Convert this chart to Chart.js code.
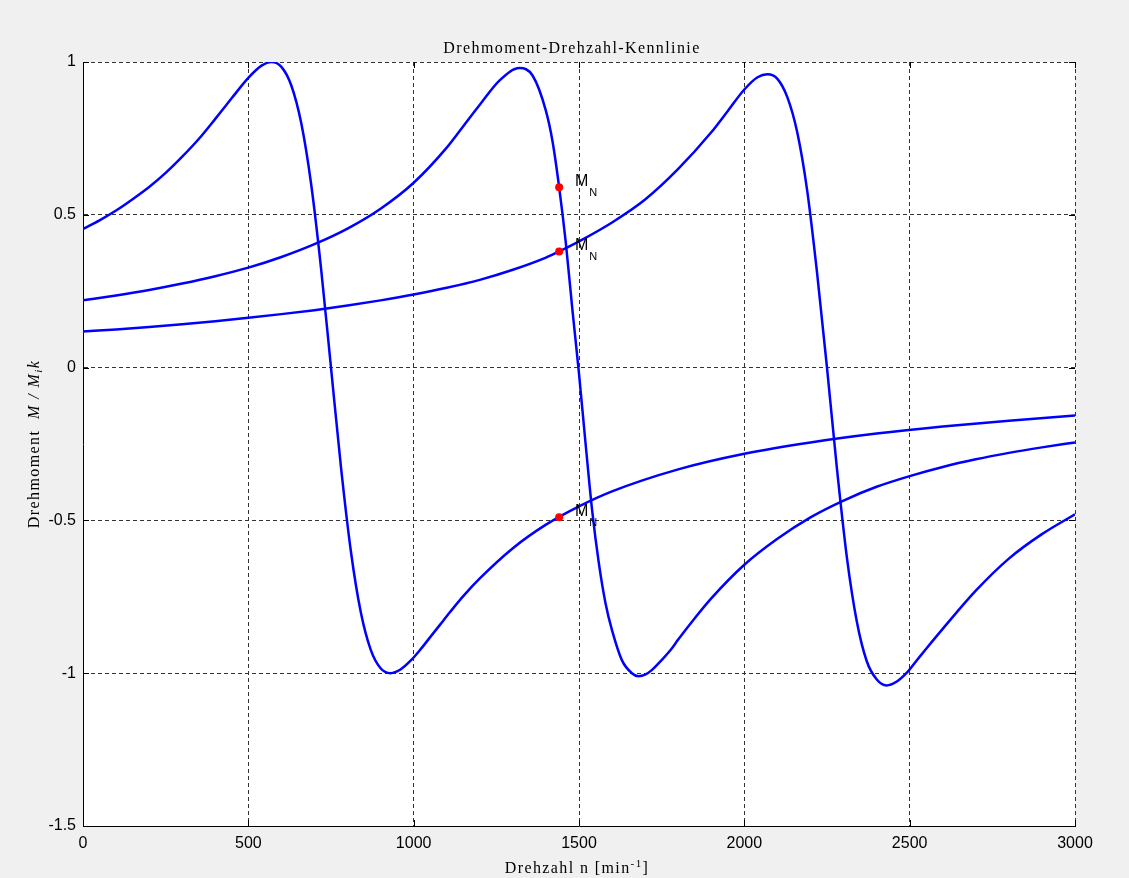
<!DOCTYPE html>
<html>
<head>
<meta charset="utf-8">
<title>Drehmoment-Drehzahl-Kennlinie</title>
<script src="https://cdn.jsdelivr.net/npm/chart.js@4.4.0/dist/chart.umd.min.js"></script>
<style>
  html, body { margin: 0; padding: 0; background: #f0f0f0; }
  #chart { display: block; }
</style>
</head>
<body>
<canvas id="chart" width="1129" height="878"></canvas>
<script>
// Kennlinien (n in 1/min, M/Mk)
const speed1 = [0, 50, 100, 150, 200, 250, 300, 350, 400, 450, 500, 540, 570, 600, 630, 660, 690, 720, 750, 780, 810, 840, 870, 900, 930, 960, 990, 1020, 1050, 1080, 1110, 1150, 1200, 1300, 1400, 1500, 1600, 1800, 2000, 2200, 2400, 2600, 2800, 3000];
const torque1 = [0.454, 0.482, 0.514, 0.551, 0.591, 0.637, 0.69, 0.748, 0.814, 0.882, 0.948, 0.988, 1.0, 0.984, 0.923, 0.8, 0.6, 0.324, 0.0, -0.324, -0.6, -0.8, -0.923, -0.984, -1.0, -0.988, -0.96, -0.923, -0.882, -0.841, -0.8, -0.748, -0.69, -0.591, -0.514, -0.454, -0.405, -0.333, -0.282, -0.245, -0.216, -0.193, -0.174, -0.157];

const speed2 = [0, 100, 200, 300, 400, 500, 600, 700, 800, 900, 1000, 1100, 1150, 1200, 1260, 1320, 1360, 1400, 1420, 1440, 1460, 1480, 1500, 1520, 1540, 1560, 1580, 1600, 1630, 1660, 1680, 1700, 1720, 1750, 1780, 1800, 1850, 1900, 2000, 2100, 2200, 2300, 2400, 2500, 2600, 2700, 2800, 2900, 3000];
const torque2 = [0.22, 0.236, 0.254, 0.275, 0.299, 0.327, 0.362, 0.404, 0.455, 0.52, 0.605, 0.72, 0.79, 0.86, 0.94, 0.98, 0.955, 0.84, 0.74, 0.59, 0.41, 0.19, -0.02, -0.25, -0.47, -0.64, -0.77, -0.86, -0.958, -1.0, -1.01, -1.005, -0.99, -0.957, -0.92, -0.89, -0.82, -0.755, -0.645, -0.56, -0.49, -0.435, -0.39, -0.355, -0.325, -0.3, -0.279, -0.261, -0.245];

const speed3 = [0, 100, 200, 300, 400, 500, 600, 700, 800, 900, 1000, 1100, 1200, 1300, 1400, 1440, 1500, 1600, 1700, 1800, 1900, 1950, 2000, 2040, 2070, 2100, 2130, 2160, 2190, 2220, 2250, 2280, 2310, 2340, 2370, 2400, 2430, 2460, 2490, 2520, 2550, 2600, 2700, 2800, 2900, 3000];
const torque3 = [0.118, 0.125, 0.133, 0.142, 0.152, 0.163, 0.175, 0.188, 0.203, 0.22, 0.239, 0.261, 0.287, 0.32, 0.36, 0.38, 0.413, 0.475, 0.55, 0.65, 0.77, 0.84, 0.91, 0.95, 0.96, 0.945, 0.885, 0.77, 0.58, 0.31, 0.0, -0.33, -0.62, -0.83, -0.96, -1.02, -1.04, -1.028, -1.0, -0.96, -0.92, -0.855, -0.73, -0.625, -0.545, -0.48];

// Nennpunkte M_N
const ratedSpeed = [1440, 1440, 1440];
const ratedTorque = [0.59, 0.38, -0.49];
const ratedLabelSpeed = 1488;

const xTicks = [0, 500, 1000, 1500, 2000, 2500, 3000];
const yTicks = [-1.5, -1, -0.5, 0, 0.5, 1];

const titleText = 'Drehmoment-Drehzahl-Kennlinie';

function zip(xs, ys) {
    return xs.map((x, i) => ({ x: x, y: ys[i] }));
}

// zeichnet Text aus mehreren Stuecken (Schrift, Versatz)
function drawPieces(ctx, pieces, x, y) {
    let w = 0;
    pieces.forEach(p => { ctx.font = p.font; w += ctx.measureText(p.text).width; });
    let cx = x - w / 2;
    pieces.forEach(p => {
        ctx.font = p.font;
        ctx.fillText(p.text, cx, y + (p.dy || 0));
        cx += ctx.measureText(p.text).width;
    });
}

const serif = '"Liberation Serif", "Times New Roman", serif';
const sans = '"Liberation Sans", Arial, sans-serif';

const decorPlugin = {
    id: 'decor',
    beforeDraw(chart) {
        const { ctx, chartArea: a } = chart;
        ctx.save();
        ctx.fillStyle = '#f0f0f0';
        ctx.fillRect(0, 0, chart.width, chart.height);
        ctx.fillStyle = '#ffffff';
        ctx.fillRect(a.left, a.top, a.right - a.left, a.bottom - a.top);
        ctx.restore();
    },
    afterDatasetsDraw(chart) {
        const { ctx, chartArea: a, scales: { x, y } } = chart;
        ctx.save();
        ctx.fillStyle = '#000';
        ctx.textAlign = 'left';
        ctx.textBaseline = 'alphabetic';
        ratedTorque.forEach(m => {
            const px = x.getPixelForValue(ratedLabelSpeed);
            const py = y.getPixelForValue(m) - 1;
            ctx.font = '16px ' + sans;
            ctx.fillText('M', px, py);
            const w = ctx.measureText('M').width;
            ctx.font = '11px ' + sans;
            ctx.fillText('N', px + w + 1, py + 10);
        });

        // kleine Striche nach innen
        ctx.strokeStyle = '#000';
        ctx.lineWidth = 1;
        ctx.beginPath();
        xTicks.forEach(v => {
            const px = Math.round(x.getPixelForValue(v)) + 0.5;
            ctx.moveTo(px, a.bottom); ctx.lineTo(px, a.bottom - 6);
            ctx.moveTo(px, a.top); ctx.lineTo(px, a.top + 6);
        });
        yTicks.forEach(v => {
            const py = Math.round(y.getPixelForValue(v)) + 0.5;
            ctx.moveTo(a.left, py); ctx.lineTo(a.left + 6, py);
            ctx.moveTo(a.right, py); ctx.lineTo(a.right - 6, py);
        });
        ctx.stroke();
        ctx.restore();
    },
    afterDraw(chart) {
        const { ctx, chartArea: a } = chart;
        ctx.save();
        ctx.fillStyle = '#000';
        ctx.textAlign = 'left';
        ctx.textBaseline = 'alphabetic';
        ctx.letterSpacing = '1.4px';

        drawPieces(ctx, [{ text: titleText, font: '16px ' + serif }], 572, 53);

        drawPieces(ctx, [
            { text: 'Drehzahl n [min', font: '16px ' + serif },
            { text: '-1', font: '11px ' + serif, dy: -6 },
            { text: ']', font: '16px ' + serif }
        ], 577, 873);

        ctx.translate(0, (a.top + a.bottom) / 2);
        ctx.rotate(-Math.PI / 2);
        drawPieces(ctx, [
            { text: 'Drehmoment  ', font: '16px ' + serif },
            { text: 'M / M', font: 'italic 16px ' + serif },
            { text: 'i', font: 'italic 11px ' + serif, dy: 3 },
            { text: 'k', font: 'italic 16px ' + serif }
        ], 0, 39);
        ctx.restore();
    }
};

const lineStyle = {
    borderColor: '#0000ff',
    borderWidth: 2.5,
    pointRadius: 0,
    fill: false,
    cubicInterpolationMode: 'monotone'
};

new Chart(document.getElementById('chart'), {
    type: 'line',
    data: {
        datasets: [
            {
                data: zip(ratedSpeed, ratedTorque),
                showLine: false,
                pointRadius: 4,
                pointBackgroundColor: '#ff0000',
                pointBorderColor: '#ff0000',
                pointBorderWidth: 0
            },
            Object.assign({ data: zip(speed1, torque1) }, lineStyle),
            Object.assign({ data: zip(speed2, torque2) }, lineStyle),
            Object.assign({ data: zip(speed3, torque3) }, lineStyle)
        ]
    },
    options: {
        responsive: false,
        animation: false,
        devicePixelRatio: 1,
        layout: { padding: { top: 62, right: 54, left: 0, bottom: 0 } },
        plugins: {
            legend: { display: false },
            tooltip: { enabled: false },
            title: { display: false }
        },
        scales: {
            x: {
                type: 'linear',
                min: 0,
                max: 3000,
                afterBuildTicks: s => { s.ticks = xTicks.map(v => ({ value: v })); },
                afterFit: s => { s.height = 52; },
                ticks: {
                    color: '#000',
                    font: { family: 'Liberation Sans', size: 16 },
                    padding: 8,
                    maxRotation: 0,
                    callback: v => String(v)
                },
                grid: { color: '#333', lineWidth: 1, drawTicks: false },
                border: { display: true, color: '#000', width: 1, dash: [4, 3] }
            },
            y: {
                type: 'linear',
                min: -1.5,
                max: 1,
                afterBuildTicks: s => { s.ticks = yTicks.map(v => ({ value: v })); },
                afterFit: s => { s.width = 83; },
                ticks: {
                    color: '#000',
                    font: { family: 'Liberation Sans', size: 16 },
                    padding: 7,
                    callback: v => String(v)
                },
                grid: { color: '#333', lineWidth: 1, drawTicks: false },
                border: { display: true, color: '#000', width: 1, dash: [4, 3] }
            }
        }
    },
    plugins: [decorPlugin]
});
</script>
</body>
</html>
